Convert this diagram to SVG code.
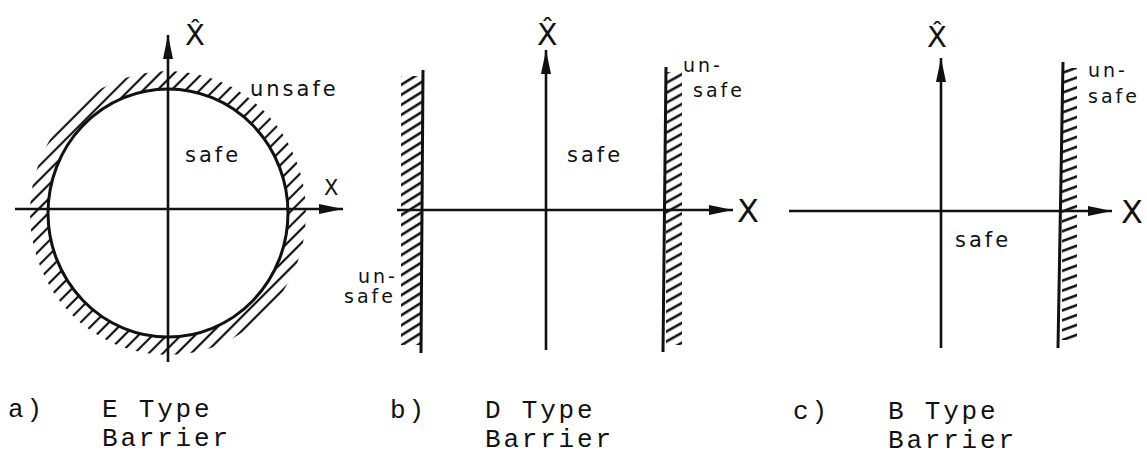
<svg xmlns="http://www.w3.org/2000/svg" width="1147" height="457" viewBox="0 0 1147 457">
<style>
.ax{stroke:#111;stroke-width:2.6;fill:none;marker-end:url(#arr)}
.bar{stroke:#111;stroke-width:3;fill:none}
.hw{font-family:"DejaVu Sans",sans-serif;fill:#111;letter-spacing:3px}
.var{font-family:"DejaVu Sans",sans-serif;fill:#111}
.cap{font-family:"Liberation Mono",monospace;font-size:26px;letter-spacing:2.8px;fill:#111}
</style>
<defs>
<marker id="arr" viewBox="0 0 24 10" refX="24" refY="5" markerWidth="24" markerHeight="10" markerUnits="userSpaceOnUse" orient="auto">
<path d="M0 0 L24 5 L0 10 Z" fill="#111"/>
</marker>
<pattern id="hc" patternUnits="userSpaceOnUse" width="20" height="10" patternTransform="rotate(-45)">
<line x1="0" y1="5" x2="20" y2="5" stroke="#111" stroke-width="2.2"/>
</pattern>
<pattern id="hl" patternUnits="userSpaceOnUse" width="20" height="8.5" patternTransform="rotate(-32)">
<line x1="0" y1="4" x2="20" y2="4" stroke="#111" stroke-width="2.6"/>
</pattern>
<pattern id="hr" patternUnits="userSpaceOnUse" width="20" height="8.7" patternTransform="rotate(-29)">
<line x1="0" y1="4" x2="20" y2="4" stroke="#111" stroke-width="2.6"/>
</pattern>
<pattern id="hr2" patternUnits="userSpaceOnUse" width="20" height="9.3" patternTransform="rotate(-20)">
<line x1="0" y1="4" x2="20" y2="4" stroke="#111" stroke-width="2.6"/>
</pattern>
</defs>
<rect width="1147" height="457" fill="#fff"/>

<g id="panel-a">
<path fill="url(#hc)" fill-rule="evenodd" d="M30 213 a138 142 0 1 0 276 0 a138 142 0 1 0 -276 0 Z M48 213 a120 124 0 1 0 240 0 a120 124 0 1 0 -240 0 Z"/>
<ellipse cx="168" cy="213" rx="120" ry="124" class="bar"/>
<text class="var" x="185" y="45" font-size="29">X&#770;</text>
<text class="var" x="324" y="195" font-size="21">X</text>
<text class="hw" x="250" y="96" font-size="21">unsafe</text>
<text class="hw" x="185" y="162" font-size="21">safe</text>
</g>

<g id="panel-b">
<rect x="401" y="76" width="21" height="269" fill="url(#hl)"/>
<line x1="423" y1="70" x2="421" y2="353" class="bar"/>
<rect x="666" y="72" width="16" height="273" fill="url(#hr)"/>
<line x1="666" y1="67" x2="663" y2="352" class="bar"/>
<text class="var" x="537" y="45" font-size="30">X&#770;</text>
<text class="var" x="737" y="222" font-size="32">X</text>
<text class="hw" x="683" y="72" font-size="19">un-</text>
<text class="hw" x="693" y="97" font-size="19">safe</text>
<text class="hw" x="358" y="283" font-size="19">un-</text>
<text class="hw" x="344" y="303" font-size="19">safe</text>
<text class="hw" x="567" y="162" font-size="21">safe</text>
</g>

<g id="panel-c">
<rect x="1062" y="68" width="15" height="272" fill="url(#hr2)"/>
<line x1="1063" y1="62" x2="1058" y2="348" class="bar"/>
<text class="var" x="927" y="47" font-size="29">X&#770;</text>
<text class="var" x="1121" y="223" font-size="32">X</text>
<text class="hw" x="1088" y="77" font-size="19">un-</text>
<text class="hw" x="1088" y="103" font-size="19">safe</text>
<text class="hw" x="955" y="247" font-size="21">safe</text>
</g>

<g id="axes">
<line x1="168" y1="362" x2="168" y2="35" class="ax"/>
<line x1="15" y1="209" x2="343" y2="209" class="ax"/>
<line x1="546" y1="350" x2="546" y2="50" class="ax"/>
<line x1="397" y1="210" x2="733" y2="210" class="ax"/>
<line x1="941" y1="348" x2="941" y2="58" class="ax"/>
<line x1="789" y1="211" x2="1112" y2="211" class="ax"/>
</g>

<g id="captions">
<text class="cap" x="8" y="417">a)</text>
<text class="cap" x="102" y="417">E Type</text>
<text class="cap" x="102" y="446">Barrier</text>
<text class="cap" x="390" y="418">b)</text>
<text class="cap" x="485" y="418">D Type</text>
<text class="cap" x="485" y="447">Barrier</text>
<text class="cap" x="793" y="419">c)</text>
<text class="cap" x="888" y="419">B Type</text>
<text class="cap" x="888" y="448">Barrier</text>
</g>
</svg>
